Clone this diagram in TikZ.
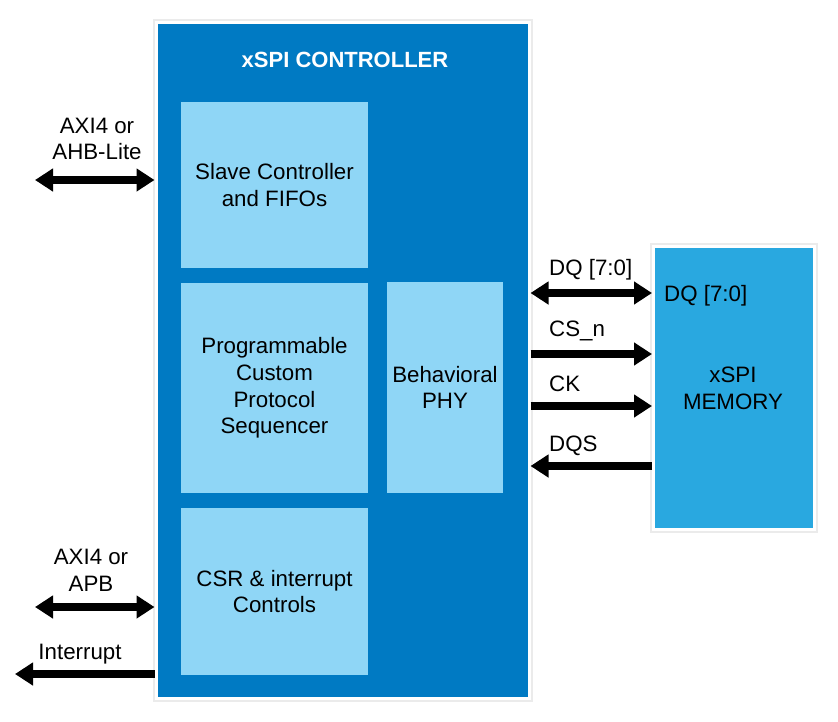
\documentclass[tikz,border=0pt]{standalone}
\usepackage{fontspec}
\setmainfont{Liberation Sans}
\usetikzlibrary{arrows.meta}
\definecolor{ctrlblue}{RGB}{0,122,195}
\definecolor{lightblue}{RGB}{143,214,246}
\definecolor{memblue}{RGB}{41,168,224}

\begin{document}
\begin{tikzpicture}[x=1pt,y=-1pt,
  txt/.style={font=\fontsize{22.3}{26.8}\selectfont,align=center,inner sep=0pt},
  frame/.style={draw=white,line width=3pt,inner sep=0pt,preaction={draw=black!8,line width=7pt}},
  blk/.style={txt,fill=lightblue},
  bus/.style={line width=8pt,-{Triangle[width=22pt,length=18pt]}},
  dbus/.style={line width=8pt,{Triangle[width=22pt,length=18pt]}-{Triangle[width=22pt,length=18pt]}}]
\useasboundingbox (0,0) rectangle (838,721);
% controller and its blocks
\node[frame,fill=ctrlblue,minimum width=373pt,minimum height=676pt] at (342.5,360) (ctrl){};
\node[txt,font=\fontsize{22}{26.8}\selectfont\bfseries,text=white] at (345,60) (title){xSPI CONTROLLER};
\node[blk,minimum width=187pt,minimum height=166pt] at (274.5,185) (slave){Slave Controller\\and FIFOs};
\node[blk,minimum width=187pt,minimum height=210pt] at (274.5,388) (seq){Programmable\\Custom\\Protocol\\Sequencer};
\node[blk,minimum width=187pt,minimum height=167pt] at (274.5,591.5) (csr){CSR \& interrupt\\Controls};
\node[blk,minimum width=116pt,minimum height=211pt] at (445,387.5) (phy){Behavioral\\PHY};
% memory
\node[frame,fill=memblue,minimum width=161pt,minimum height=283pt] at (734,388) (mem){};
\node[txt] at (733,388) (memtxt){xSPI\\MEMORY};
\node[txt,anchor=west] at (664,296) (dqin){DQ [7:0]};
% host side
\coordinate (axiL) at (35,180);
\coordinate (apbL) at (35,607);
\coordinate (irqL) at (15,674);
\node[txt] at (97,139) (axi){AXI4 or\\AHB-Lite};
\node[txt] at (91,570) (apb){AXI4 or\\APB};
\node[txt] at (80,654) (irq){Interrupt};
\draw[dbus] (axiL) -- (ctrl.west |- axiL);
\draw[dbus] (apbL) -- (ctrl.west |- apbL);
\draw[bus] (ctrl.west |- irqL) -- (irqL);
% memory side
\foreach \y/\n/\t in {270/dq/DQ [7:0],331/cs/CS\_n,384/ck/CK,446/dqs/DQS}{
\node[txt,anchor=west] at (549,\y) (\n){\t};
}
\draw[dbus] (ctrl.east |- 0,293) -- (mem.west |- 0,293);
\draw[bus] (ctrl.east |- 0,354) -- (mem.west |- 0,354);
\draw[bus] (ctrl.east |- 0,406) -- (mem.west |- 0,406);
\draw[bus] (mem.west |- 0,466) -- (ctrl.east |- 0,466);
\end{tikzpicture}
\end{document}
